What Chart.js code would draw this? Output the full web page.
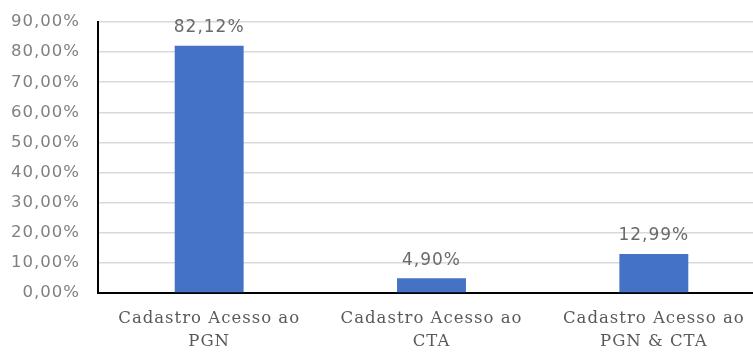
<!DOCTYPE html>
<html>
<head>
<meta charset="utf-8">
<script src="https://cdn.jsdelivr.net/npm/chart.js@4"></script>
<style>
  html, body { margin: 0; padding: 0; background: #fff; overflow: hidden; }
  #wrap { width: 753px; height: 352px; overflow: hidden; }
</style>
</head>
<body>
<div id="wrap"><canvas id="chart" width="766" height="352"></canvas></div>
<script>
const categories = [
  ["Cadastro Acesso ao", "PGN"],
  ["Cadastro Acesso ao", "CTA"],
  ["Cadastro Acesso ao", "PGN & CTA"]
];
const shares = [82.12, 4.90, 12.99];
const yTicks = [0, 10, 20, 30, 40, 50, 60, 70, 80, 90];

const pct = (v) => v.toFixed(2).replace(".", ",") + "%";

// all text on this chart is set a little wide
const spacing = {
  id: "spacing",
  beforeDraw(chart) {
    chart.ctx.letterSpacing = "1px";
  }
};

// value labels above each bar
const valueLabels = {
  id: "valueLabels",
  afterDatasetsDraw(chart) {
    const ctx = chart.ctx;
    const meta = chart.getDatasetMeta(0);
    ctx.save();
    ctx.letterSpacing = "1px";
    ctx.font = "17px 'DejaVu Sans'";
    ctx.fillStyle = "#6a6a6a";
    ctx.textAlign = "center";
    ctx.textBaseline = "middle";
    meta.data.forEach((bar, i) => {
      ctx.fillText(pct(shares[i]), bar.x, bar.y - 18);
    });
    ctx.restore();
  }
};

new Chart(document.getElementById("chart").getContext("2d"), {
  type: "bar",
  data: {
    labels: categories,
    datasets: [{
      data: shares,
      backgroundColor: "#4472c4",
      categoryPercentage: 1,
      barPercentage: 0.31
    }]
  },
  options: {
    responsive: false,
    animation: false,
    layout: { padding: { top: 22, right: 1, left: 0, bottom: 0 } },
    plugins: {
      legend: { display: false },
      tooltip: { enabled: false }
    },
    scales: {
      x: {
        grid: { display: false },
        border: { color: "#000", width: 2 },
        ticks: {
          color: "#595959",
          padding: 6,
          maxRotation: 0,
          autoSkip: false,
          font: { family: "'DejaVu Serif'", size: 16.5, lineHeight: 1.4 }
        },
        afterFit(scale) { scale.height = 59; }
      },
      y: {
        min: 0,
        max: 90,
        afterBuildTicks(scale) {
          scale.ticks = yTicks.map((v) => ({ value: v }));
        },
        grid: { color: "#d9d9d9", lineWidth: 1.5, drawTicks: false },
        border: { color: "#000", width: 2 },
        ticks: {
          color: "#808080",
          padding: 18,
          font: { family: "'DejaVu Sans'", size: 16.5 },
          callback: (v) => pct(v)
        },
        afterFit(scale) {
          scale.width = 98;
          scale.paddingTop = 0;
          scale.paddingBottom = 0;
        }
      }
    }
  },
  plugins: [spacing, valueLabels]
});
</script>
</body>
</html>
